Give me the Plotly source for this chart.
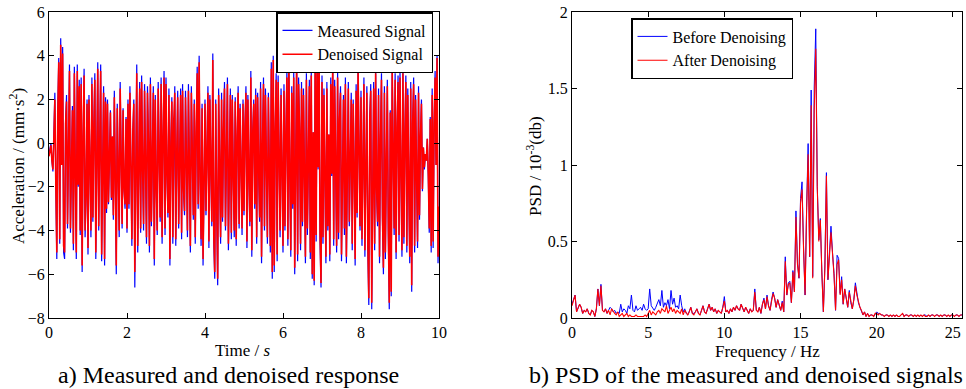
import plotly.graph_objects as go

# ---------------- data ----------------
time_s = [round(i * 0.025, 3) for i in range(401)]

measured = [
    -0.5, -0.2, 0.0, -0.8, -1.3, 0.4, 2.3, -2.0, -5.3, 1.5, 3.9, -4.6, 4.8, -1.0, 4.4, -5.0, -5.3, 1.0, 2.2, -3.9,
    -1.0, 3.6, -4.1, 0.2, 1.7, -4.9, 3.5, -1.5, -5.3, 3.6, -2.0, 2.9, -4.2, 3.0, -5.9, 0.3, 3.4, -4.3, -2.5, 2.0,
    -5.1, 2.2, -0.5, -4.3, 3.0, -3.6, 0.8, 3.2, -5.3, -1.0, 3.7, -4.0, 1.5, 3.6, -5.4, 0.0, 2.6, -5.6, 2.1, -3.2,
    2.0, -2.8, -0.5, 1.5, -2.6, 0.3, -3.5, 2.4, -1.8, -6.0, 1.8, -2.0, -4.3, 2.8, -0.8, -3.9, 1.6, -2.2, -3.0, 1.2,
    -4.1, 2.0, -3.0, 2.6, -1.0, -4.7, 0.5, 2.0, -6.6, -1.5, 3.6, -5.0, 0.2, 2.8, -4.1, 3.1, -1.2, -4.0, 2.7, -2.0,
    -4.6, 2.6, 0.0, -5.0, 3.0, -3.8, -0.5, 2.6, -5.6, 2.2, -2.0, -4.2, 2.8, -0.8, -3.6, 3.0, -4.6, 0.3, 3.3, -4.2,
    3.0, -1.5, -3.4, 2.5, -5.6, 0.0, 2.1, -4.6, 1.2, 2.6, -4.7, -0.5, 2.4, -3.9, 0.8, 2.5, -4.4, 2.7, -2.2, -3.3,
    2.4, -1.0, -4.3, 2.7, -2.5, -5.0, 2.6, -0.5, -3.5, 2.0, -4.6, 0.5, 3.5, -3.0, 4.0, -1.8, -4.7, 1.8, -5.6, -2.0,
    2.0, -3.3, 0.4, 2.6, -4.8, 2.2, -1.2, -3.8, 4.1, -4.5, -6.2, 2.0, -3.0, -6.5, 2.5, -1.5, -4.6, 2.3, -3.6, 0.6,
    2.8, -4.0, -0.8, 3.0, -4.9, 1.0, 2.5, -4.4, 2.2, -1.5, -4.3, 2.1, -4.7, 0.3, 2.6, -3.9, 1.8, -1.0, -4.2, 2.0,
    -3.3, 0.8, 2.6, -4.8, 2.2, -1.6, -3.8, 3.3, -5.2, 0.5, 2.0, -3.0, 2.5, -4.6, 2.3, -1.2, -3.6, 2.8, -5.5, 0.0,
    3.0, -4.0, 2.5, -1.0, -4.6, 2.3, -2.3, -5.0, 3.7, -6.2, 4.0, -5.9, 0.5, 3.2, -5.4, 3.1, -0.5, -4.3, 2.5, -1.8,
    -5.0, 2.7, -4.0, 0.5, 3.3, -4.7, 3.9, -1.5, -5.2, 2.6, -3.0, 3.3, -6.0, -1.0, 3.9, -5.4, 3.0, 0.6, -4.9, 2.8,
    -3.8, 2.5, -1.6, -5.5, 3.2, -4.2, -0.8, 2.9, -5.3, 3.4, -6.2, 0.5, -6.5, 4.0, -4.5, 3.9, -1.2, 4.0, -4.5, -6.6,
    3.1, -4.6, 2.5, -0.6, -5.5, 2.8, -4.0, 0.4, -5.4, 3.0, -1.5, 3.9, -4.7, 2.9, -1.0, -5.0, 3.3, -4.4, 1.2, 2.6,
    -5.4, 0.5, 2.2, -4.2, 3.0, -5.5, -2.0, 2.8, -3.8, 0.8, 2.3, -4.9, 2.0, -1.2, -5.6, 2.7, -3.4, 3.5, 0.4, -4.0,
    2.4, -4.7, -1.0, 3.0, -5.2, 0.6, 2.6, -4.9, -7.4, 1.2, 2.7, -7.6, -0.5, 2.8, -4.9, 3.4, -2.2, -3.8, 2.5, -5.5,
    0.2, 3.2, -3.5, -6.0, 2.6, -5.3, -1.0, 2.9, -4.2, -7.6, 1.5, -7.0, 3.5, -2.0, -4.2, 3.2, -5.3, 0.7, 3.1, -4.5,
    3.3, -1.5, -5.2, 3.5, -4.6, 0.4, 3.1, -5.0, 2.5, -2.0, -5.5, 2.8, -6.8, 0.9, 3.0, -5.0, 2.2, -1.5, -4.8, 2.6,
    -3.5, 0.3, 2.0, -2.2, -0.2, -1.2, -0.5, -0.8, 0.2, -1.5, -4.1, 1.2, -5.0, 2.5, -4.8, 1.0, 3.3, -1.0, 4.0, -5.5,
    -3.0,
]

denoised = [
    -0.6, -0.3, -0.1, -0.8, -1.2, 0.3, 2.0, -1.9, -5.0, 1.4, 3.7, -4.4, 4.5, -1.0, 4.1, -4.7, -5.0, 0.9, 1.9, -3.7,
    -1.0, 3.3, -3.9, 0.2, 1.5, -4.6, 3.2, -1.4, -5.0, 3.3, -1.9, 2.6, -4.0, 2.7, -5.6, 0.3, 3.1, -4.0, -2.4, 1.8,
    -4.8, 2.0, -0.5, -4.0, 2.7, -3.4, 0.7, 2.9, -5.0, -1.0, 3.4, -3.8, 1.4, 3.3, -5.1, 0.0, 2.3, -5.3, 1.9, -3.0,
    1.8, -2.7, -0.5, 1.4, -2.5, 0.3, -3.3, 2.1, -1.7, -5.6, 1.6, -1.9, -4.0, 2.5, -0.8, -3.7, 1.5, -2.1, -2.8, 1.1,
    -3.9, 1.8, -2.8, 2.3, -1.0, -4.4, 0.5, 1.8, -5.9, -1.4, 3.2, -4.7, 0.2, 2.5, -3.9, 2.8, -1.1, -3.7, 2.4, -1.9,
    -4.3, 2.3, 0.0, -4.7, 2.7, -3.6, -0.5, 2.3, -5.3, 2.0, -1.9, -4.0, 2.5, -0.8, -3.4, 2.7, -4.3, 0.3, 3.0, -3.9,
    2.7, -1.4, -3.2, 2.2, -5.3, 0.0, 1.9, -4.3, 1.1, 2.3, -4.4, -0.5, 2.1, -3.7, 0.7, 2.2, -4.1, 2.4, -2.1, -3.1,
    2.1, -1.0, -4.0, 2.4, -2.4, -4.7, 2.3, -0.5, -3.3, 1.8, -4.3, 0.5, 3.2, -2.8, 3.7, -1.7, -4.4, 1.6, -5.3, -1.9,
    1.8, -3.1, 0.4, 2.3, -4.5, 2.0, -1.1, -3.6, 3.8, -4.2, -5.9, 1.8, -2.8, -6.2, 2.2, -1.4, -4.3, 2.0, -3.4, 0.6,
    2.5, -3.8, -0.8, 2.7, -4.6, 0.9, 2.2, -4.1, 2.0, -1.4, -4.0, 1.9, -4.4, 0.3, 2.3, -3.7, 1.6, -1.0, -3.9, 1.8,
    -3.1, 0.8, 2.3, -4.5, 2.0, -1.5, -3.6, 3.0, -4.9, 0.5, 1.8, -2.8, 2.2, -4.3, 2.1, -1.1, -3.4, 2.5, -5.2, 0.0,
    2.7, -3.8, 2.2, -1.0, -4.3, 2.1, -2.2, -4.7, 3.4, -5.9, 3.8, -5.6, 0.5, 2.9, -5.1, 2.8, -0.5, -4.0, 2.2, -1.7,
    -4.7, 2.4, -3.8, 0.5, 3.0, -4.4, 3.7, -1.4, -4.9, 2.3, -2.8, 3.0, -5.7, -1.0, 3.6, -5.1, 2.7, 0.6, -4.6, 2.5,
    -3.6, 2.2, -1.5, -5.2, 2.9, -3.9, -0.8, 2.6, -5.0, 3.1, -6.0, 0.5, -6.3, 3.9, -4.2, 3.7, -1.1, 3.9, -4.2, -6.4,
    2.8, -4.3, 2.2, -0.6, -5.2, 2.5, -3.8, 0.4, -5.1, 2.7, -1.4, 3.6, -4.4, 2.6, -1.0, -4.7, 3.0, -4.1, 1.1, 2.3,
    -5.1, 0.5, 2.0, -3.9, 2.7, -5.2, -1.9, 2.5, -3.6, 0.8, 2.0, -4.6, 1.8, -1.1, -5.3, 2.4, -3.2, 3.3, 0.4, -3.8,
    2.1, -4.4, -1.0, 2.7, -4.9, 0.6, 2.3, -4.6, -7.1, 1.1, 2.4, -7.3, -0.5, 2.5, -4.6, 3.2, -2.1, -3.6, 2.2, -5.2,
    0.2, 2.9, -3.3, -5.7, 2.3, -5.0, -1.0, 2.6, -3.9, -7.3, 1.4, -6.8, 3.3, -1.9, -3.9, 2.9, -5.0, 0.7, 2.8, -4.2,
    3.0, -1.4, -4.9, 3.2, -4.3, 0.4, 2.8, -4.7, 2.2, -1.9, -5.2, 2.5, -6.5, 0.9, 2.7, -4.7, 2.0, -1.4, -4.5, 2.3,
    -3.3, 0.3, 1.8, -2.1, -0.2, -1.1, -0.5, -0.8, 0.2, -1.4, -3.9, 1.1, -4.7, 2.2, -4.5, 0.9, 3.0, -1.0, 3.9, -5.2,
    -2.9,
]

freq_hz = [round(i * 0.1, 1) for i in range(257)]

psd_before = [
    0.09, 0.12, 0.15, 0.04, 0.06, 0.09, 0.07, 0.03, 0.05, 0.04,
    0.06, 0.03, 0.02, 0.05, 0.04, 0.01, 0.06, 0.19, 0.08, 0.22,
    0.05, 0.04, 0.06, 0.03, 0.05, 0.07, 0.06, 0.04, 0.05, 0.03,
    0.04, 0.03, 0.09, 0.04, 0.06, 0.05, 0.03, 0.08, 0.06, 0.15,
    0.05, 0.04, 0.08, 0.05, 0.06, 0.07, 0.05, 0.09, 0.06, 0.05,
    0.06, 0.19, 0.08, 0.06, 0.05, 0.07, 0.09, 0.12, 0.08, 0.18,
    0.07, 0.10, 0.08, 0.12, 0.06, 0.18, 0.09, 0.13, 0.07, 0.08,
    0.06, 0.15, 0.08, 0.04, 0.06, 0.03, 0.02, 0.05, 0.07, 0.03,
    0.03, 0.04, 0.06, 0.03, 0.02, 0.05, 0.08, 0.04, 0.03, 0.06,
    0.09, 0.05, 0.07, 0.04, 0.06, 0.03, 0.05, 0.04, 0.03, 0.07,
    0.14, 0.04, 0.05, 0.03, 0.06, 0.04, 0.07, 0.05, 0.08, 0.06,
    0.05, 0.09, 0.06, 0.04, 0.07, 0.05, 0.03, 0.06, 0.04, 0.05,
    0.19, 0.05, 0.04, 0.07, 0.03, 0.09, 0.13, 0.06, 0.15, 0.08,
    0.05, 0.12, 0.17, 0.13, 0.07, 0.12, 0.09, 0.05, 0.11, 0.04,
    0.40, 0.15, 0.23, 0.24, 0.10, 0.31, 0.17, 0.70, 0.36, 0.26,
    0.78, 0.89, 0.46, 0.15, 0.72, 1.14, 0.40, 1.49, 0.27, 1.51,
    1.89, 0.86, 0.51, 0.65, 0.30, 0.04, 0.34, 0.95, 0.25, 0.46,
    0.60, 0.43, 0.29, 0.05, 0.41, 0.39, 0.16, 0.27, 0.09, 0.19,
    0.14, 0.07, 0.18, 0.10, 0.06, 0.12, 0.23, 0.15, 0.10, 0.07,
    0.05, 0.02, 0.04, 0.01, 0.03, 0.01, 0.02, 0.02, 0.01, 0.03,
    0.04, 0.03, 0.03, 0.02, 0.02, 0.01, 0.02, 0.02, 0.01, 0.02,
    0.01, 0.02, 0.01, 0.02, 0.01, 0.01, 0.02, 0.03, 0.01, 0.02,
    0.02, 0.01, 0.02, 0.02, 0.01, 0.02, 0.01, 0.02, 0.01, 0.02,
    0.01, 0.02, 0.02, 0.01, 0.02, 0.01, 0.02, 0.02, 0.01, 0.02,
    0.02, 0.01, 0.02, 0.01, 0.02, 0.02, 0.01, 0.02, 0.01, 0.02,
    0.02, 0.01, 0.02, 0.02, 0.01, 0.02, 0.02,
]

psd_after = [
    0.08, 0.12, 0.15, 0.04, 0.06, 0.09, 0.07, 0.03, 0.05, 0.04,
    0.06, 0.03, 0.02, 0.05, 0.04, 0.01, 0.06, 0.19, 0.08, 0.21,
    0.05, 0.04, 0.06, 0.03, 0.05, 0.02, 0.06, 0.04, 0.03, 0.02,
    0.04, 0.01, 0.02, 0.03, 0.01, 0.02, 0.03, 0.01, 0.02, 0.01,
    0.01, 0.01, 0.02, 0.01, 0.01, 0.01, 0.01, 0.01, 0.02, 0.01,
    0.03, 0.05, 0.02, 0.04, 0.03, 0.02, 0.04, 0.05, 0.03, 0.06,
    0.05, 0.04, 0.08, 0.03, 0.05, 0.07, 0.04, 0.06, 0.03, 0.05,
    0.04, 0.03, 0.06, 0.02, 0.05, 0.03, 0.02, 0.04, 0.07, 0.03,
    0.02, 0.04, 0.06, 0.03, 0.02, 0.05, 0.08, 0.04, 0.03, 0.06,
    0.09, 0.05, 0.07, 0.04, 0.06, 0.03, 0.05, 0.04, 0.03, 0.07,
    0.11, 0.04, 0.05, 0.03, 0.06, 0.04, 0.07, 0.05, 0.08, 0.06,
    0.05, 0.09, 0.06, 0.04, 0.07, 0.05, 0.03, 0.06, 0.04, 0.05,
    0.17, 0.05, 0.04, 0.07, 0.03, 0.09, 0.12, 0.06, 0.14, 0.08,
    0.05, 0.11, 0.16, 0.13, 0.07, 0.12, 0.09, 0.05, 0.10, 0.04,
    0.37, 0.15, 0.22, 0.23, 0.10, 0.30, 0.17, 0.66, 0.35, 0.26,
    0.75, 0.84, 0.45, 0.15, 0.70, 1.07, 0.40, 1.39, 0.26, 1.36,
    1.76, 0.85, 0.50, 0.64, 0.30, 0.04, 0.33, 0.93, 0.25, 0.45,
    0.56, 0.42, 0.28, 0.05, 0.35, 0.38, 0.15, 0.25, 0.09, 0.19,
    0.14, 0.07, 0.17, 0.10, 0.06, 0.12, 0.21, 0.15, 0.10, 0.07,
    0.05, 0.02, 0.04, 0.01, 0.03, 0.01, 0.02, 0.02, 0.01, 0.03,
    0.03, 0.02, 0.03, 0.02, 0.02, 0.01, 0.02, 0.02, 0.01, 0.02,
    0.01, 0.02, 0.01, 0.02, 0.01, 0.01, 0.02, 0.03, 0.01, 0.02,
    0.02, 0.01, 0.02, 0.02, 0.01, 0.02, 0.01, 0.02, 0.01, 0.02,
    0.01, 0.02, 0.01, 0.01, 0.02, 0.01, 0.02, 0.02, 0.01, 0.02,
    0.02, 0.01, 0.02, 0.01, 0.02, 0.02, 0.01, 0.02, 0.01, 0.02,
    0.02, 0.01, 0.02, 0.02, 0.01, 0.02, 0.02,
]

time_ticks = [0, 2, 4, 6, 8, 10]
acc_ticks = [6, 4, 2, 0, -2, -4, -6, -8]
freq_ticks = [0, 5, 10, 15, 20, 25]
psd_ticks = [0, 0.5, 1, 1.5, 2]

assert len(measured) == len(time_s), len(measured)
assert len(denoised) == len(time_s), len(denoised)
assert len(psd_before) == len(freq_hz), len(psd_before)
assert len(psd_after) == len(freq_hz), len(psd_after)

# ---------------- figure ----------------
W, H = 966, 389
FONT = "Liberation Serif, Times New Roman, serif"
BLUE = "#0000FF"
RED = "#FF0000"


def px(x):
    return x / W


def py(y):
    return 1 - y / H


fig = go.Figure()

fig.add_trace(go.Scatter(x=time_s, y=measured, mode="lines", name="Measured Signal",
                         line=dict(color=BLUE, width=1.2), xaxis="x", yaxis="y", legend="legend"))
fig.add_trace(go.Scatter(x=time_s, y=denoised, mode="lines", name="Denoised Signal",
                         line=dict(color=RED, width=1.6), xaxis="x", yaxis="y", legend="legend"))
fig.add_trace(go.Scatter(x=freq_hz, y=psd_before, mode="lines", name="Before Denoising",
                         line=dict(color=BLUE, width=1), xaxis="x2", yaxis="y2", legend="legend2"))
fig.add_trace(go.Scatter(x=freq_hz, y=psd_after, mode="lines", name="After Denoising",
                         line=dict(color=RED, width=1.1), xaxis="x2", yaxis="y2", legend="legend2"))

axis_common = dict(
    showline=True, linecolor="black", linewidth=1, mirror="ticks",
    ticks="inside", ticklen=5, tickcolor="black", tickwidth=1,
    showgrid=False, zeroline=False, automargin=False,
    tickfont=dict(family=FONT, size=16, color="black"),
)

fig.update_layout(
    template="none",
    width=W, height=H,
    margin=dict(l=0, r=0, t=0, b=0, pad=0),
    paper_bgcolor="white", plot_bgcolor="white",
    font=dict(family=FONT, color="black"),
    xaxis=dict(domain=[px(49), px(439)], range=[0, 10], tickvals=time_ticks, anchor="y", **axis_common),
    yaxis=dict(domain=[py(318), py(12)], range=[-8, 6], tickvals=acc_ticks, anchor="x", **axis_common),
    xaxis2=dict(domain=[px(572), px(962)], range=[0, 25.6], tickvals=freq_ticks, anchor="y2", **axis_common),
    yaxis2=dict(domain=[py(318), py(12)], range=[0, 2], tickvals=psd_ticks, anchor="x2", **axis_common),
    legend=dict(x=px(276), y=py(12), xanchor="left", yanchor="top",
                bgcolor="white", bordercolor="black", borderwidth=1.5,
                font=dict(family=FONT, size=16, color="black"), tracegroupgap=0),
    legend2=dict(x=px(631), y=py(18), xanchor="left", yanchor="top",
                 bgcolor="white", bordercolor="black", borderwidth=1.5,
                 font=dict(family=FONT, size=16, color="black"), tracegroupgap=0),
    showlegend=True,
)

annotations = [
    dict(text="Time / <i>s</i>", x=px(243), y=py(350), font=dict(size=17)),
    dict(text="Frequency / Hz", x=px(767), y=py(351), font=dict(size=17)),
    dict(text="Acceleration / (mm·s<sup>2</sup>)", x=px(17), y=py(166), textangle=-90, font=dict(size=17)),
    dict(text="PSD / 10<sup>-3</sup>(db)", x=px(534), y=py(166), textangle=-90, font=dict(size=17)),
    dict(text="a) Measured and denoised response", x=px(228), y=py(375), font=dict(size=24)),
    dict(text="b) PSD of the measured and denoised signals", x=px(746), y=py(375), font=dict(size=24)),
]
for a in annotations:
    a.update(xref="paper", yref="paper", showarrow=False, xanchor="center", yanchor="middle")
    a["font"].update(family=FONT, color="black")
    fig.add_annotation(**a)

fig.write_html("out.html", config={"displayModeBar": False},
               post_script="document.body.style.margin='0px';")
